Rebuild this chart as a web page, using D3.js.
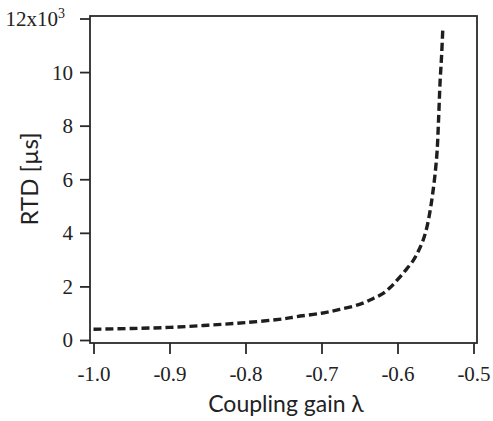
<!DOCTYPE html>
<html>
<head>
<meta charset="utf-8">
<script src="https://cdn.jsdelivr.net/npm/d3@7"></script>
<style>
  html, body { margin: 0; padding: 0; background: #fff; }
  svg { display: block; }
  .serif { font-family: "Liberation Serif", "DejaVu Serif", serif; }
  .sans { font-family: "Lato", "Open Sans", sans-serif; }
</style>
</head>
<body>
<svg id="chart" width="493" height="421"></svg>
<script>
// Data (RTD in units of 10^3 µs)
const lambda = [-1.0, -0.95, -0.9, -0.85, -0.8, -0.75, -0.733, -0.7, -0.676, -0.65, -0.632, -0.62, -0.61, -0.60, -0.59, -0.579, -0.572, -0.566, -0.561, -0.557, -0.554, -0.551, -0.548, -0.546, -0.544, -0.542, -0.5405];
const rtd    = [0.40, 0.43, 0.47, 0.55, 0.65, 0.79, 0.87, 1.0, 1.14, 1.33, 1.55, 1.72, 1.95, 2.25, 2.58, 2.98, 3.35, 3.75, 4.25, 4.84, 5.4, 6.08, 7.0, 8.2, 9.62, 10.6, 11.55];
const xTicks = [-1.0, -0.9, -0.8, -0.7, -0.6, -0.5];
const xTickLabels = ["-1.0", "-0.9", "-0.8", "-0.7", "-0.6", "-0.5"];
const yTicks = [0, 2, 4, 6, 8, 10, 12];
const yTickLabels = ["0", "2", "4", "6", "8", "10", "12x10"];

const svg = d3.select("#chart");
const frame = {left: 90, right: 477, top: 16, bottom: 343};

const x = d3.scaleLinear().domain([-1.0, -0.5]).range([93.5, 473.5]);
const y = d3.scaleLinear().domain([0, 12]).range([340, 18.5]);

const axisColor = "#2a2a2a";

// Frame
svg.append("rect")
  .attr("x", frame.left).attr("y", frame.top)
  .attr("width", frame.right - frame.left)
  .attr("height", frame.bottom - frame.top)
  .attr("fill", "none").attr("stroke", axisColor).attr("stroke-width", 1.8);

// Y axis
const yAxis = d3.axisLeft(y).tickValues(yTicks).tickSize(10).tickPadding(7)
  .tickFormat((d, i) => yTickLabels[i]);
const gy = svg.append("g").attr("transform", `translate(${frame.left},0)`).call(yAxis);
gy.attr("font-family", null).attr("font-size", null);
gy.select(".domain").remove();
gy.selectAll(".tick line").attr("stroke", axisColor).attr("stroke-width", 1.8);
gy.selectAll(".tick text")
  .attr("class", "serif")
  .style("font-size", "21px").attr("fill", "#222").attr("dy", "0.33em");
// Superscript on top label
gy.selectAll(".tick text").filter((d) => d === 12)
  .attr("x", -25)
  .append("tspan").attr("dy", "-0.55em").style("font-size", "14px").text("3");

// X axis
const xAxis = d3.axisBottom(x).tickValues(xTicks).tickSize(11).tickPadding(12)
  .tickFormat((d, i) => xTickLabels[i]);
const gx = svg.append("g").attr("transform", `translate(0,${frame.bottom})`).call(xAxis);
gx.attr("font-family", null).attr("font-size", null);
gx.select(".domain").remove();
gx.selectAll(".tick line").attr("stroke", axisColor).attr("stroke-width", 1.8);
gx.selectAll(".tick text")
  .attr("class", "serif")
  .style("font-size", "21px").attr("fill", "#222");

// Axis titles
svg.append("text")
  .attr("class", "sans")
  .attr("x", 286).attr("y", 412)
  .attr("text-anchor", "middle")
  .style("font-size", "23px").attr("fill", "#222")
  .text("Coupling gain λ");

svg.append("text")
  .attr("class", "sans")
  .attr("transform", "translate(38,179) rotate(-90)")
  .attr("text-anchor", "middle")
  .style("font-size", "24px").attr("fill", "#222")
  .text("RTD [µs]");

// Curve
const pts = lambda.map((l, i) => [l, rtd[i]]);
const line = d3.line().x(d => x(d[0])).y(d => y(d[1])).curve(d3.curveCatmullRom.alpha(0.5));
svg.append("path")
  .datum(pts)
  .attr("d", line)
  .attr("fill", "none")
  .attr("stroke", "#1e1e1e")
  .attr("stroke-width", 3.4)
  .attr("stroke-dasharray", "8,4");
</script>
</body>
</html>
